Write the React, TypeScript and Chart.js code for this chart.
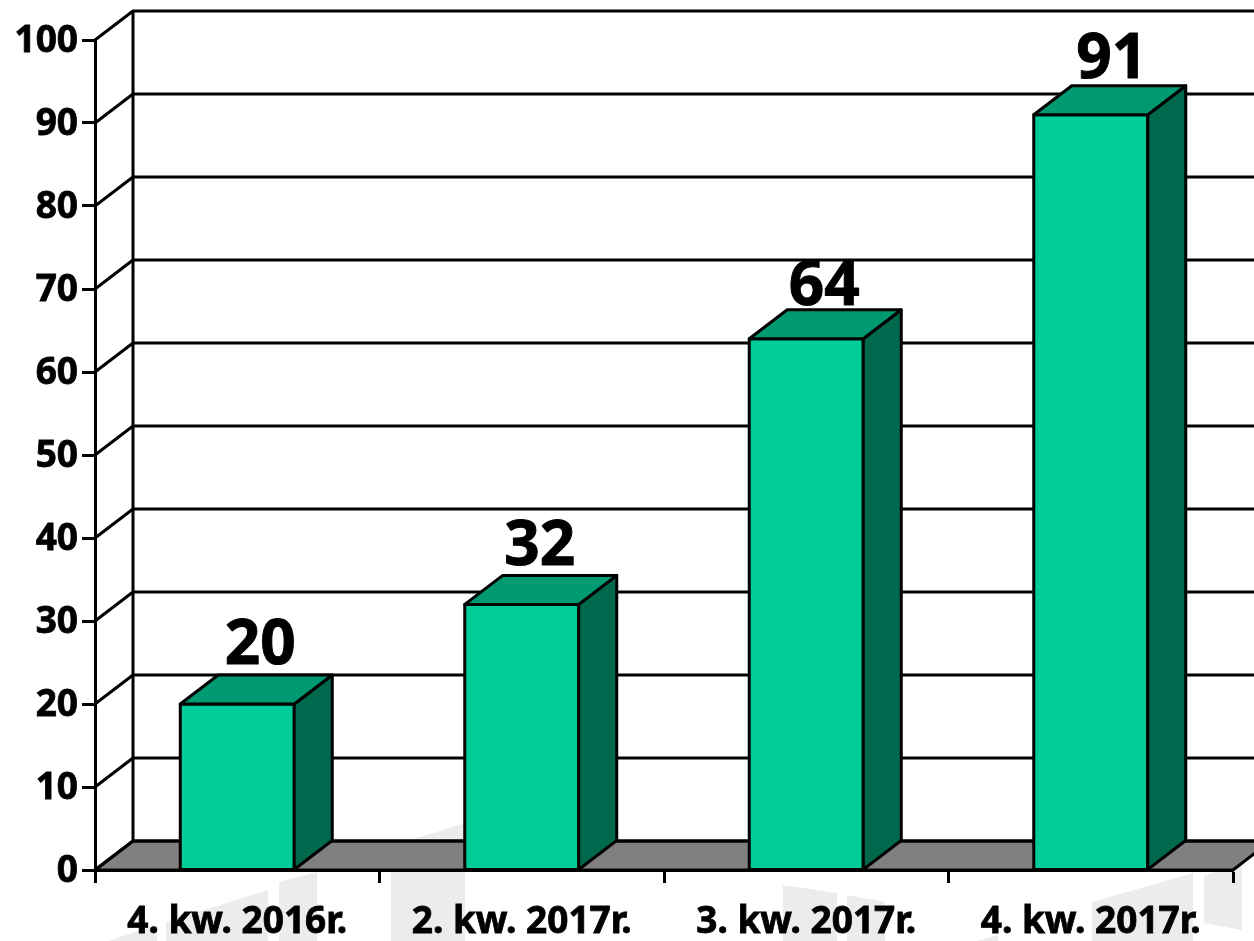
import React, { useEffect, useRef } from "react";
import { Chart, registerables } from "chart.js";

Chart.register(...registerables);

const categories = ["4. kw. 2016r.", "2. kw. 2017r.", "3. kw. 2017r.", "4. kw. 2017r."];
const values = [20, 32, 64, 91];
const yTicks = [0, 10, 20, 30, 40, 50, 60, 70, 80, 90, 100];

const FONT = '"Noto Sans", sans-serif';
const DEPTH_X = 38;
const DEPTH_Y = 29;
const FACE = "#00CC99";
const SIDE = "#00694D";
const TOP = "#009A72";
const FLOOR = "#808080";
const WATERMARK = "#ECECEC";
const LW = 3;

// Small hand adjustments of the value captions
const labelShiftX = [4, -1, -1, 2];
const labelShiftY = [-4, -3, 2, -1];

// Pale decorative shapes behind the chart (background artwork, not data)
const watermarkShapes: number[][][] = [
  [[108, 941], [157, 925], [157, 941]],
  [[166, 922], [268, 890], [268, 941], [166, 941]],
  [[279, 882], [317, 872], [317, 941], [279, 941]],
  [[391, 846], [465, 823], [465, 941], [391, 941]],
  [[783, 885], [837, 893], [837, 941], [783, 941]],
  [[847, 895], [885, 902], [885, 941], [847, 941]],
  [[977, 941], [998, 935], [998, 941]],
  [[1092, 902], [1193, 873], [1193, 941], [1092, 941]],
  [[1204, 876], [1242, 862], [1242, 930], [1204, 923]],
];

const poly = (ctx: CanvasRenderingContext2D, pts: number[][], fill: string | null, stroke = true) => {
  ctx.beginPath();
  pts.forEach(([x, y], i) => (i ? ctx.lineTo(x, y) : ctx.moveTo(x, y)));
  ctx.closePath();
  if (fill) {
    ctx.fillStyle = fill;
    ctx.fill();
  }
  if (stroke) ctx.stroke();
};

const backdrop = {
  id: "backdrop",
  beforeDraw(chart: any) {
    const { ctx } = chart;
    ctx.save();
    watermarkShapes.forEach((s) => poly(ctx, s, WATERMARK, false));
    ctx.restore();
  },
  beforeDatasetsDraw(chart: any) {
    const { ctx, scales, chartArea } = chart;
    const y = scales.y;
    const left = chartArea.left;
    const right = chartArea.right;
    const y0 = y.getPixelForValue(0);
    ctx.save();
    ctx.strokeStyle = "#000";
    ctx.lineJoin = "round";
    ctx.lineWidth = LW;
    poly(
      ctx,
      [
        [left, y0],
        [left + DEPTH_X, y0 - DEPTH_Y],
        [right + DEPTH_X, y0 - DEPTH_Y],
        [right, y0],
      ],
      FLOOR,
    );
    yTicks.forEach((v) => {
      const py = y.getPixelForValue(v);
      ctx.beginPath();
      ctx.moveTo(left, py);
      ctx.lineTo(left + DEPTH_X, py - DEPTH_Y);
      ctx.lineTo(right + DEPTH_X, py - DEPTH_Y);
      ctx.stroke();
    });
    ctx.beginPath();
    ctx.moveTo(left + DEPTH_X, y.getPixelForValue(100) - DEPTH_Y);
    ctx.lineTo(left + DEPTH_X, y0 - DEPTH_Y);
    ctx.stroke();
    ctx.restore();
  },
  afterDatasetsDraw(chart: any) {
    const { ctx } = chart;
    const meta = chart.getDatasetMeta(0);
    ctx.save();
    ctx.strokeStyle = "#000";
    ctx.lineWidth = LW;
    ctx.lineJoin = "round";
    meta.data.forEach((bar: any, i: number) => {
      const half = bar.width / 2;
      const l = bar.x - half;
      const r = bar.x + half;
      const t = bar.y;
      const b = bar.base;
      poly(ctx, [[l, t], [r, t], [r, b], [l, b]], null);
      poly(ctx, [[r, t], [r + DEPTH_X, t - DEPTH_Y], [r + DEPTH_X, b - DEPTH_Y], [r, b]], SIDE);
      poly(ctx, [[l, t], [l + DEPTH_X, t - DEPTH_Y], [r + DEPTH_X, t - DEPTH_Y], [r, t]], TOP);
      ctx.fillStyle = "#000";
      ctx.font = `bold 62px ${FONT}`;
      ctx.textAlign = "center";
      ctx.textBaseline = "alphabetic";
      const tx = bar.x + DEPTH_X / 2 + labelShiftX[i];
      const ty = t - DEPTH_Y - 7 + labelShiftY[i];
      ctx.lineWidth = 1;
      ctx.strokeText(String(values[i]), tx, ty);
      ctx.fillText(String(values[i]), tx, ty);
      ctx.lineWidth = LW;
    });
    ctx.restore();
  },
};

export default function App() {
  const ref = useRef<HTMLCanvasElement>(null);
  useEffect(() => {
    const chart = new Chart(ref.current!, {
      type: "bar",
      data: {
        labels: categories,
        datasets: [
          {
            data: values,
            backgroundColor: FACE,
            borderWidth: 0,
            barThickness: 114,
          },
        ],
      },
      options: {
        animation: false,
        responsive: false,
        layout: { padding: { top: 40, right: 21, left: 0, bottom: 0 } },
        plugins: { legend: { display: false }, tooltip: { enabled: false }, title: { display: false } },
        scales: {
          x: {
            afterFit: (s: any) => {
              s.height = 71;
            },
            border: { color: "#000", width: LW },
            grid: { drawOnChartArea: false, drawTicks: true, tickLength: 13, tickColor: "#000", tickWidth: 3 },
            ticks: {
              color: "#000",
              padding: 17,
              font: { family: FONT, size: 37, weight: "bold" },
              maxRotation: 0,
              textStrokeColor: "#000",
              textStrokeWidth: 0.8,
            },
          },
          y: {
            min: 0,
            max: 100,
            afterFit: (s: any) => {
              s.width = 95;
            },
            afterBuildTicks: (s: any) => {
              s.ticks = yTicks.map((value) => ({ value }));
            },
            border: { color: "#000", width: LW },
            grid: { drawOnChartArea: false, drawTicks: true, tickLength: 13, tickColor: "#000", tickWidth: 3 },
            ticks: {
              color: "#000",
              padding: 4,
              labelOffset: 1.5,
              font: { family: FONT, size: 37, weight: "bold" },
              textStrokeColor: "#000",
              textStrokeWidth: 0.8,
            },
          },
        },
      },
      plugins: [backdrop],
    } as any);
    return () => chart.destroy();
  }, []);
  return (
    <canvas
      ref={ref}
      width={1254}
      height={941}
      style={{ position: "fixed", left: 0, top: 0, width: 1254, height: 941, display: "block" }}
    />
  );
}
